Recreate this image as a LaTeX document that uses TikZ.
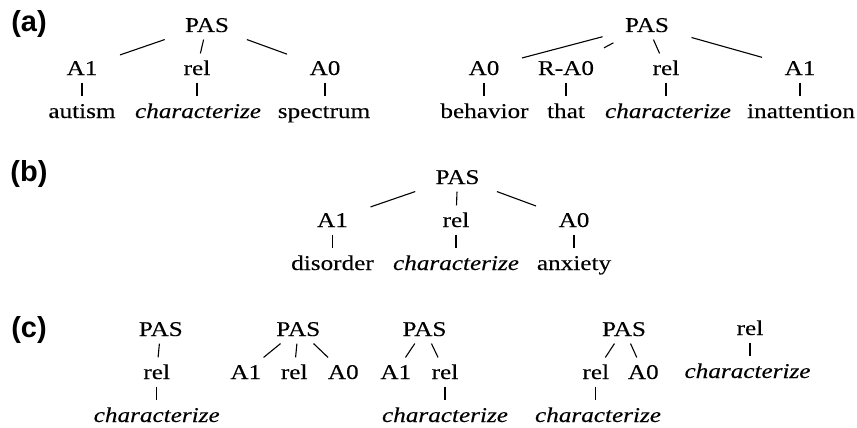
\documentclass[tikz,border=0pt]{standalone}
\usepackage{fontspec}
\setmainfont{Liberation Serif}[FakeStretch=1.2,FakeBold=0.18]
\newfontfamily\panelfont{Liberation Sans}
\tikzstyle{tag}=[anchor=base,inner xsep=22pt,inner ysep=7pt,text height=14pt,text depth=0pt]
\tikzstyle{panel}=[anchor=base,inner sep=0pt,font=\panelfont\bfseries\fontsize{29}{29}\selectfont]
\begin{document}
\begin{tikzpicture}[x=1pt,y=-1pt,line width=1.1pt,font=\fontsize{21}{21}\selectfont]
			\useasboundingbox (0,0) rectangle (857,428);
			
			\node (la) at (29,32) [panel] {(a)};
			\node (lb) at (29,181) [panel] {(b)};
			\node (lc) at (29,337) [panel] {(c)};
			
			\node (pa) at (207,32) [tag] {PAS};
			\node (a1) at (82,75) [tag] {A1};
			\node (arel) at (197,75) [tag] {rel};
			\node (a0) at (325,75) [tag] {A0};
			\node (aw1) at (82,118) [tag] {autism};
			\node (aw2) at (198,118) [tag] {\textit{characterize}};
			\node (aw3) at (324,118) [tag] {spectrum};
			
			\node (pb) at (647,32) [tag] {PAS};
			\node (b0) at (484,75) [tag] {A0};
			\node (br) at (566,75) [tag] {R-A0};
			\node (brel) at (666,75) [tag] {rel};
			\node (b1) at (800,75) [tag] {A1};
			\node (bw1) at (484.5,118) [tag] {behavior};
			\node (bw2) at (566,118) [tag] {that};
			\node (bw3) at (668,118) [tag] {\textit{characterize}};
			\node (bw4) at (801,118) [tag] {inattention};
			
			\node (pc) at (457.5,184) [tag] {PAS};
			\node (c1) at (332.5,227) [tag] {A1};
			\node (crel) at (456,227) [tag] {rel};
			\node (c0) at (574,227) [tag] {A0};
			\node (cw1) at (332.5,270) [tag] {disorder};
			\node (cw2) at (456,270) [tag] {\textit{characterize}};
			\node (cw3) at (574,270) [tag] {anxiety};
			
			\node (pd) at (160.8,336) [tag] {PAS};
			\node (drel) at (156.7,379) [tag] {rel};
			\node (dw) at (156.7,422) [tag] {\textit{characterize}};
			
			\node (pe) at (298.3,336) [tag] {PAS};
			\node (e1) at (245.8,379) [tag] {A1};
			\node (erel) at (294.2,379) [tag] {rel};
			\node (e0) at (343.3,379) [tag] {A0};
			
			\node (pf) at (424.5,336) [tag] {PAS};
			\node (f1) at (395.8,379) [tag] {A1};
			\node (frel) at (445,379) [tag] {rel};
			\node (fw) at (445,422) [tag] {\textit{characterize}};
			
			\node (pg) at (624,336) [tag] {PAS};
			\node (grel) at (595.8,379) [tag] {rel};
			\node (g0) at (643.3,379) [tag] {A0};
			\node (gw) at (598,422) [tag] {\textit{characterize}};
			
			\node (hrel) at (750,335) [tag] {rel};
			\node (hw) at (747.5,378) [tag] {\textit{characterize}};
			
			
			\draw (pa) -- (a1);
			\draw (pa) -- (arel);
			\draw (pa) -- (a0);
			\draw (a1) -- (a1 |- aw1.north);
			\draw (arel) -- (arel |- aw2.north);
			\draw (a0) -- (a0 |- aw3.north);
			
			\draw (pb) -- (b0);
			\draw [shorten <=7pt,shorten >=12pt](pb) -- (br);
			\draw (pb) -- (brel);
			\draw (pb) -- (b1);
			\draw (b0) -- (b0 |- bw1.north);
			\draw (br) -- (br |- bw2.north);
			\draw (brel) -- (brel |- bw3.north);
			\draw (b1) -- (b1 |- bw4.north);
			
			\draw (pc) -- (c1);
			\draw (pc) -- (crel);
			\draw (pc) -- (c0);
			\draw (c1) -- (c1 |- cw1.north);
			\draw (crel) -- (crel |- cw2.north);
			\draw (c0) -- (c0 |- cw3.north);
			
			\draw (pd) -- (drel);
			\draw (drel) -- (drel |- dw.north);
			
			\draw (pe) -- (e1);
			\draw (pe) -- (erel);
			\draw (pe) -- (e0);
			
			\draw (pf) -- (f1);
			\draw (pf) -- (frel);
			\draw (frel) -- (frel |- fw.north);
			
			\draw (pg) -- (grel);
			\draw (pg) -- (g0);
			\draw (grel) -- (grel |- gw.north);
			
			\draw (hrel) -- (hrel |- hw.north);
		\end{tikzpicture}
\end{document}
